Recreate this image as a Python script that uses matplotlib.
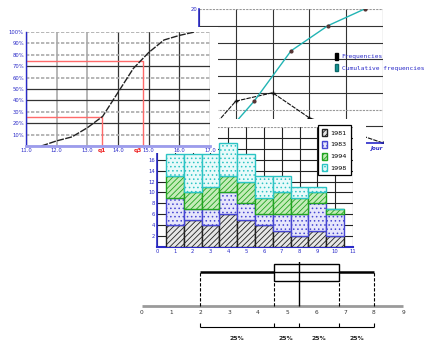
import matplotlib.pyplot as plt
from matplotlib.patches import Rectangle, Patch

W, H = 432, 345
BLUE = '#2a2ac8'

# ogive (cumulative percentages)
ogive_x = [11.5, 12.0, 12.5, 13.0, 13.5, 14.0, 14.5, 15.0, 15.5, 16.0, 16.5]
ogive_pct = [0, 4.5, 8, 16, 26, 47, 68, 82, 93, 97, 100]
ogive_xticks = [11, 12, 13, 14, 15, 16, 17]
ogive_yticks = [0, 10, 20, 30, 40, 50, 60, 70, 80, 90, 100]
q1_val, q3_val = 13.47, 14.8
q1_pct, q3_pct = 25, 75

# frequency / cumulative frequency
freq_x = [0, 1, 2, 3, 4, 5]
freq_y = [0, 6.25, 7.5, 3.75, 1.875, 0]
cum_x = [0.5, 1.5, 2.5, 3.5, 4.5]
cum_y = [0, 6.25, 13.75, 17.5, 20]
freq_yticks = [0, 2.5, 5, 7.5, 10, 12.5, 15, 17.5, 20]

# stacked bars
bar_pos = [1, 2, 3, 4, 5, 6, 7, 8, 9, 10]
years = ['1981', '1983', '1994', '1998']
v1981 = [4, 5, 4, 6, 5, 4, 3, 2, 3, 2]
v1983 = [5, 2, 3, 4, 3, 2, 3, 4, 5, 4]
v1994 = [4, 3, 4, 3, 4, 3, 4, 3, 2, 1]
v1998 = [4, 7, 6, 6, 5, 4, 3, 2, 1, 0]
bar_yticks = [0, 2, 4, 6, 8, 10, 12, 14, 16, 18, 20, 22]

# box plot
number_line = [0, 1, 2, 3, 4, 5, 6, 7, 8, 9]
box_stats = [2, 4.55, 5.4, 6.8, 8]  # min, q1, median, q3, max
quart_labels = ['25%', '25%', '25%', '25%']

plt.rcParams['hatch.linewidth'] = 0.6
fig = plt.figure(figsize=(W / 100, H / 100), dpi=100)


def px_axes(x0, y0, x1, y1, z):
    return fig.add_axes([x0 / W, 1 - y1 / H, (x1 - x0) / W, (y1 - y0) / H], zorder=z)


def white_box(x0, y0, x1, y1, z):
    fig.add_artist(Rectangle((x0 / W, 1 - y1 / H), (x1 - x0) / W, (y1 - y0) / H,
                             transform=fig.transFigure, facecolor='white',
                             edgecolor='none', zorder=z))


# ---- frequency chart (back) ----
ax2 = px_axes(199, 9, 383, 143, 1)
ax2.set_xlim(0, 5)
ax2.set_ylim(0, 20)
ax2.set_xticks(range(6))
ax2.set_xticklabels([])
ax2.set_yticks(freq_yticks)
ax2.set_yticklabels([''] * 8 + ['20'], fontsize=3.8, color=BLUE)
ax2.tick_params(length=0, pad=1)
ax2.grid(True, color='#333333', lw=0.8)
for i, gl in enumerate(ax2.yaxis.get_gridlines()):
    if i in (2, 8):
        gl.set_color('#999999')
        gl.set_linestyle((0, (2, 1)))
for s in ['top', 'right']:
    ax2.spines[s].set_visible(False)
ax2.spines['left'].set_color(BLUE)
ax2.spines['bottom'].set_color(BLUE)
ax2.spines['left'].set_linewidth(1.2)
ax2.spines['bottom'].set_linewidth(1.2)
ax2.plot(freq_x, freq_y, color='#111111', lw=0.8, ls=(0, (4, 1)),
         marker='+', ms=3, mew=1)
ax2.plot(cum_x, cum_y, color='#22b4b4', lw=1, marker='o', ms=2,
         mfc='#553333', mec='#553333')
ax2.set_xlabel('Jour', fontsize=4, color=BLUE, style='italic', weight='bold',
               loc='right', labelpad=1)
fig.legend(handles=[Patch(facecolor='black', edgecolor='black', label='Frequencies'),
                    Patch(facecolor='#1a9a9a', edgecolor='#0a6a6a',
                          label='Cumulative frequencies')],
           loc='upper left', bbox_to_anchor=(329 / W, 1 - 47 / H), frameon=False,
           prop={'family': 'DejaVu Sans Mono', 'size': 4.5}, labelcolor=BLUE,
           handlelength=0.6, handleheight=1.4, handletextpad=0.5, labelspacing=0.7)

# ---- stacked bar chart (middle) ----
white_box(145, 119, 366, 262, 2)
ax3 = px_axes(157, 127, 353, 247, 3)
ax3.set_xlim(0, 11)
ax3.set_ylim(0, 22)
ax3.set_axisbelow(True)
styles = [
    (v1981, '#e6e6e6', '#222222', '//////'),
    (v1983, '#e6e6fb', '#4646d2', '....'),
    (v1994, '#c4ecb8', '#22a422', '//////'),
    (v1998, '#e8fafa', '#2cc4c4', '....'),
]
bottom = [0] * len(bar_pos)
for (vals, fc, ec, hatch), year in zip(styles, years):
    ax3.bar(bar_pos, vals, bottom=bottom, width=1, facecolor=fc, edgecolor=ec,
            hatch=hatch, lw=1, label=year, zorder=3)
    bottom = [b + v for b, v in zip(bottom, vals)]
ax3.set_xticks(range(12))
ax3.set_xticklabels([str(i) for i in range(12)], fontsize=3.8, color=BLUE)
ax3.set_yticks(bar_yticks)
ax3.set_yticklabels([str(v) if 0 < v <= 16 else '' for v in bar_yticks],
                    fontsize=3.8, color=BLUE)
ax3.tick_params(length=0, pad=1.5)
ax3.grid(True, color='#222222', lw=0.8)
ax3.yaxis.get_gridlines()[-1].set_color('#999999')
ax3.yaxis.get_gridlines()[-1].set_linestyle((0, (2, 1)))
for s in ['top', 'right']:
    ax3.spines[s].set_visible(False)
ax3.spines['left'].set_color(BLUE)
ax3.spines['bottom'].set_color(BLUE)
ax3.spines['left'].set_linewidth(1.2)
ax3.spines['bottom'].set_linewidth(1.5)
leg = ax3.legend(loc='upper right', bbox_to_anchor=(354 / W, 1 - 122 / H),
                 bbox_transform=fig.transFigure, fontsize=4.6, fancybox=False,
                 edgecolor='black', framealpha=1, handlelength=0.8, handleheight=1.3,
                 handletextpad=0.5, labelspacing=0.75, borderpad=0.6)
leg.get_frame().set_linewidth(0.9)
leg.set_zorder(10)

# ---- ogive (front) ----
white_box(0, 27, 218, 153, 4)
ax1 = px_axes(26, 32, 210, 146, 5)
ax1.set_xlim(11, 17)
ax1.set_ylim(0, 100)
ax1.set_xticks(ogive_xticks)
ax1.set_xticklabels(['%.1f' % v for v in ogive_xticks], fontsize=3.8, color=BLUE)
ax1.set_xticks([q1_val, q3_val], labels=['q1', 'q3'], minor=True)
for lab in ax1.get_xticklabels(minor=True):
    lab.set_color('#ee2222')
    lab.set_fontsize(4.2)
    lab.set_weight('bold')
ax1.get_xticklabels(minor=True)[1].set_horizontalalignment('right')
ax1.set_yticks(ogive_yticks)
ax1.set_yticklabels([''] + ['%d%%' % v for v in ogive_yticks[1:]],
                    fontsize=3.8, color=BLUE)
ax1.tick_params(which='both', length=0, pad=1.5)
ax1.grid(True, which='major', color='#333333', lw=0.9)
light = {'x': [1, 2], 'y': [1, 3, 6, 8, 9, 10]}
for i, gl in enumerate(ax1.xaxis.get_gridlines()):
    if i in light['x']:
        gl.set_color('#aaaaaa')
        gl.set_lw(1.2)
for i, gl in enumerate(ax1.yaxis.get_gridlines()):
    if i in light['y']:
        gl.set_color('#aaaaaa')
        gl.set_lw(1.2)
        gl.set_linestyle((0, (2, 1)))
for s in ['top', 'right']:
    ax1.spines[s].set_visible(False)
ax1.spines['left'].set_color(BLUE)
ax1.spines['left'].set_linewidth(1)
ax1.spines['bottom'].set_color('#9c9cec')
ax1.spines['bottom'].set_linewidth(2)
ax1.plot([ogive_xticks[0], q1_val, q1_val], [q1_pct, q1_pct, 0], color='#ff6a6a', lw=1)
ax1.plot([ogive_xticks[0], q3_val, q3_val], [q3_pct, q3_pct, 0], color='#ff6a6a', lw=1)
ax1.plot(ogive_x, ogive_pct, color='#222222', lw=1, ls=(0, (5, 1)))

# ---- box plot (bottom) ----
ax4 = px_axes(142, 255, 403, 345, 1)
ax4.set_xlim(number_line[0], number_line[-1])
ax4.set_ylim(0, 90)
ax4.set_axis_off()
mn, bq1, med, bq3, mx = box_stats
ax4.hlines(39, number_line[0], number_line[-1], color='#9a9a9a', lw=2, clip_on=False)
for v in number_line:
    ax4.text(v, 32, str(v), ha='center', va='center', fontsize=4.2, color='#333333')
ax4.hlines(73, mn, bq1, color='black', lw=1.8)
ax4.hlines(73, bq3, mx, color='black', lw=1.8)
ax4.hlines(73, bq1, bq3, color='black', lw=1)
ax4.add_patch(Rectangle((bq1, 64), bq3 - bq1, 17, fill=False, edgecolor='black', lw=1))
ax4.vlines(med, 39, 88, color='black', lw=1)
ax4.vlines([mn, mx], 39, 73, color='black', lw=0.8, linestyles=(0, (3, 1.5)))
ax4.vlines([bq1, bq3], 39, 64, color='black', lw=0.8, linestyles=(0, (3, 1.5)))
ax4.hlines(18, mn, mx, color='black', lw=0.8)
ax4.vlines(box_stats, 18, 22, color='black', lw=0.8)
for a, b, lab in zip(box_stats[:-1], box_stats[1:], quart_labels):
    ax4.text((a + b) / 2, 7, lab, ha='center', va='center', fontsize=4.4,
             weight='bold', color='#222222')

fig.savefig('out.png', dpi=100)
